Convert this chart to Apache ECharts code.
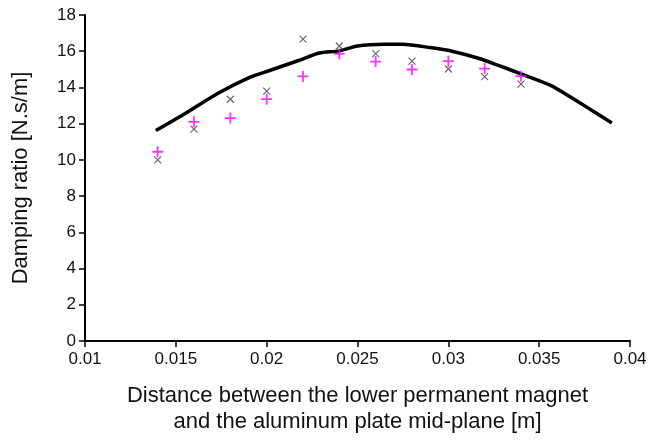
<!DOCTYPE html>
<html>
<head>
<meta charset="utf-8">
<script src="https://cdn.jsdelivr.net/npm/echarts@6/dist/echarts.min.js"></script>
<style>
  html, body { margin: 0; padding: 0; background: #fff; }
  #chart { width: 652px; height: 440px; }
</style>
</head>
<body>
<div id="chart"></div>
<script>
// Distance between lower magnet and plate mid-plane [m]
const distances = [0.014, 0.016, 0.018, 0.020, 0.022, 0.024, 0.026, 0.028, 0.030, 0.032, 0.034];
// Measured damping, first set (plus markers)
const dampingPlus = [10.45, 12.1, 12.31, 13.35, 14.61, 15.85, 15.43, 14.99, 15.45, 15.04, 14.62];
// Measured damping, second set (cross markers)
const dampingCross = [10.0, 11.7, 13.35, 13.8, 16.67, 16.29, 15.87, 15.45, 15.02, 14.6, 14.18];

// Model curve
const modelX = [0.0139, 0.0154, 0.0173, 0.0191, 0.0202, 0.0218, 0.0229, 0.0240, 0.0250, 0.0265,
                0.0275, 0.0290, 0.0302, 0.0317, 0.0328, 0.0340, 0.0356, 0.0367, 0.0378, 0.0390];
const modelY = [11.62, 12.49, 13.67, 14.57, 14.95, 15.5, 15.9, 16.02, 16.29, 16.38,
                16.38, 16.2, 16.0, 15.6, 15.2, 14.75, 14.13, 13.49, 12.8, 12.04];

const xTicks = { min: 0.01, max: 0.04, step: 0.005 };
const yTicks = { min: 0, max: 18, step: 2 };

const pair = (xs, ys) => xs.map((x, i) => [x, ys[i]]);

const FONT = '"Liberation Sans", Arial, sans-serif';
const chart = echarts.init(document.getElementById('chart'), null, { renderer: 'canvas' });

chart.setOption({
  animation: false,
  backgroundColor: '#ffffff',
  grid: { left: 85, right: 22, top: 15, bottom: 93 },
  xAxis: {
    type: 'value',
    min: xTicks.min, max: xTicks.max, interval: xTicks.step,
    name: 'Distance between the lower permanent magnet\nand the aluminum plate mid-plane [m]',
    nameLocation: 'middle',
    nameGap: 42,
    nameTextStyle: { fontFamily: FONT, fontSize: 22, color: '#111', lineHeight: 26 },
    axisLine: { show: true, onZero: false, lineStyle: { color: '#000', width: 2 } },
    axisTick: { show: true, length: 6, lineStyle: { color: '#000', width: 1.5 } },
    axisLabel: {
      fontFamily: FONT, fontSize: 17, color: '#111', margin: 10,
      formatter: v => String(+v.toFixed(3))
    },
    splitLine: { show: false }
  },
  yAxis: {
    type: 'value',
    min: yTicks.min, max: yTicks.max, interval: yTicks.step,
    name: 'Damping ratio [N.s/m]',
    nameLocation: 'middle',
    nameGap: 53,
    nameTextStyle: { fontFamily: FONT, fontSize: 22, color: '#111' },
    axisLine: { show: true, lineStyle: { color: '#000', width: 2 } },
    axisTick: { show: true, length: 6, lineStyle: { color: '#000', width: 1.5 } },
    axisLabel: { fontFamily: FONT, fontSize: 17, color: '#111', margin: 9 },
    splitLine: { show: false }
  },
  series: [
    {
      name: 'model',
      type: 'line',
      data: pair(modelX, modelY),
      smooth: 0.25,
      showSymbol: false,
      symbol: 'none',
      lineStyle: { color: '#000', width: 3.5 },
      z: 2
    },
    {
      name: 'set 1',
      type: 'scatter',
      data: pair(distances, dampingPlus),
      symbol: 'path://M0,5 L10,5 M5,0 L5,10',
      symbolSize: 11,
      itemStyle: { color: 'rgba(0,0,0,0)', borderColor: '#ff00ff', borderWidth: 1.8 },
      z: 3
    },
    {
      name: 'set 2',
      type: 'scatter',
      data: pair(distances, dampingCross),
      symbol: 'path://M0,0 L10,10 M10,0 L0,10',
      symbolSize: 7,
      itemStyle: { color: 'rgba(0,0,0,0)', borderColor: '#444444', borderWidth: 1.2 },
      z: 4
    }
  ]
});
</script>
</body>
</html>
